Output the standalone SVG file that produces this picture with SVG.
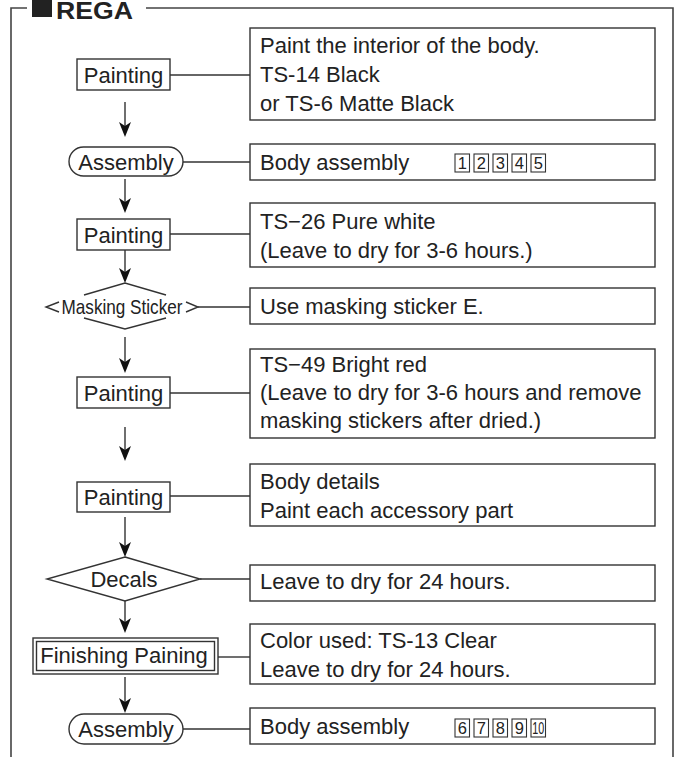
<svg xmlns="http://www.w3.org/2000/svg" width="679" height="757" viewBox="0 0 679 757">
<defs>
<style>
.t{font-family:"Liberation Sans",Arial,sans-serif;font-size:22px;fill:#222}
.c{text-anchor:middle}
.n{font-family:"Liberation Sans",Arial,sans-serif;font-size:16.5px;fill:#222;text-anchor:middle}
.b{fill:#fff;stroke:#333;stroke-width:1.4}
.nb{fill:none;stroke:#333;stroke-width:1.1}
.l{fill:none;stroke:#333;stroke-width:1.4}
.f{fill:none;stroke:#444;stroke-width:1.6}
.ah{fill:#111;stroke:none}
</style>
</defs>
<rect width="679" height="757" fill="#fff"/>
<g id="frame">
<path class="f" d="M11,757 V8 H27 M146,8 H673 V757"/>
<rect x="32" y="-2" width="20" height="19" fill="#222"/>
<text x="56" y="18.5" style="font-family:'Liberation Sans',Arial,sans-serif;font-weight:bold;font-size:24px;fill:#222" textLength="77" lengthAdjust="spacingAndGlyphs">REGA</text>
</g>
<g id="connectors">
<g class="l">
<line x1="170" y1="75" x2="250" y2="75"/>
<line x1="183" y1="162" x2="250" y2="162"/>
<line x1="170" y1="234" x2="250" y2="234"/>
<line x1="198" y1="307" x2="250" y2="307"/>
<line x1="170" y1="393" x2="250" y2="393"/>
<line x1="170" y1="496" x2="250" y2="496"/>
<line x1="200" y1="579" x2="250" y2="579"/>
<line x1="218" y1="657" x2="250" y2="657"/>
<line x1="183" y1="729" x2="250" y2="729"/>
<path d="M125,102 V126 M125,179 V202 M125,250 V272 M125,337 V362 M125,427 V450 M125,517 V546 M125,601 V622 M125,677 V702"/>
</g>
<path class="ah" d="M125,137 L119,122 L125,126 L131,122 Z"/>
<path class="ah" d="M125,213 L119,198 L125,202 L131,198 Z"/>
<path class="ah" d="M125,283 L119,268 L125,272 L131,268 Z"/>
<path class="ah" d="M125,373 L119,358 L125,362 L131,358 Z"/>
<path class="ah" d="M125,461 L119,446 L125,450 L131,446 Z"/>
<path class="ah" d="M125,557 L119,542 L125,546 L131,542 Z"/>
<path class="ah" d="M125,633 L119,618 L125,622 L131,618 Z"/>
<path class="ah" d="M125,713 L119,698 L125,702 L131,698 Z"/>
</g>
<g id="painting1">
<rect class="b" x="77" y="59" width="93" height="31"/>
<text class="t c" x="123.5" y="82.5">Painting</text>
</g>
<g id="note1">
<rect class="b" x="250" y="28" width="405" height="92"/>
<text class="t" x="260" y="53">Paint the interior of the body.</text>
<text class="t" x="260" y="82">TS-14 Black</text>
<text class="t" x="260" y="111">or TS-6 Matte Black</text>
</g>
<g id="assembly1">
<rect class="b" x="69" y="147" width="114" height="29" rx="14.5"/>
<text class="t c" x="126" y="169.5">Assembly</text>
</g>
<g id="note2">
<rect class="b" x="250" y="144" width="405" height="36"/>
<text class="t" x="260" y="170">Body assembly</text>
<rect class="nb" x="455" y="154" width="14.5" height="18"/><text class="n" x="462.25" y="169">1</text>
<rect class="nb" x="474" y="154" width="14.5" height="18"/><text class="n" x="481.25" y="169">2</text>
<rect class="nb" x="493" y="154" width="14.5" height="18"/><text class="n" x="500.25" y="169">3</text>
<rect class="nb" x="512" y="154" width="14.5" height="18"/><text class="n" x="519.25" y="169">4</text>
<rect class="nb" x="531" y="154" width="14.5" height="18"/><text class="n" x="538.25" y="169">5</text>
</g>
<g id="painting2">
<rect class="b" x="77" y="219" width="93" height="31"/>
<text class="t c" x="123.5" y="242.5">Painting</text>
</g>
<g id="note3">
<rect class="b" x="250" y="203" width="405" height="64"/>
<text class="t" x="260" y="228.5">TS−26 Pure white</text>
<text class="t" x="260" y="257.5">(Leave to dry for 3-6 hours.)</text>
</g>
<g id="masking">
<path class="l" d="M84,295 L125,283 L166,295 M84,318 L125,329 L166,318 M59,302 L46,307 L59,312 M186,302 L198,307 L186,312"/>
<text class="t c" x="122" y="314" style="font-size:21px" textLength="121" lengthAdjust="spacingAndGlyphs">Masking Sticker</text>
</g>
<g id="note4">
<rect class="b" x="250" y="288" width="405" height="36"/>
<text class="t" x="260" y="314">Use masking sticker E.</text>
</g>
<g id="painting3">
<rect class="b" x="77" y="377" width="93" height="31"/>
<text class="t c" x="123.5" y="400.5">Painting</text>
</g>
<g id="note5">
<rect class="b" x="250" y="349" width="405" height="89"/>
<text class="t" x="260" y="372">TS−49 Bright red</text>
<text class="t" x="260" y="400">(Leave to dry for 3-6 hours and remove</text>
<text class="t" x="260" y="428">masking stickers after dried.)</text>
</g>
<g id="painting4">
<rect class="b" x="77" y="482" width="93" height="30"/>
<text class="t c" x="123.5" y="504.5">Painting</text>
</g>
<g id="note6">
<rect class="b" x="250" y="464" width="405" height="62"/>
<text class="t" x="260" y="489">Body details</text>
<text class="t" x="260" y="517.5">Paint each accessory part</text>
</g>
<g id="decals">
<path class="b" d="M125,557 L200,579 L125,601 L47,579 Z"/>
<text class="t c" x="124" y="587">Decals</text>
</g>
<g id="note7">
<rect class="b" x="250" y="565" width="405" height="36"/>
<text class="t" x="260" y="589">Leave to dry for 24 hours.</text>
</g>
<g id="finishing">
<rect class="b" x="33" y="638" width="185" height="36"/>
<rect class="b" x="36.5" y="641.5" width="178" height="29"/>
<text class="t c" x="124" y="663">Finishing Paining</text>
</g>
<g id="note8">
<rect class="b" x="250" y="624" width="405" height="60"/>
<text class="t" x="260" y="647.5">Color used: TS-13 Clear</text>
<text class="t" x="260" y="676.5">Leave to dry for 24 hours.</text>
</g>
<g id="assembly2">
<rect class="b" x="69" y="714" width="114" height="30" rx="15"/>
<text class="t c" x="126" y="737">Assembly</text>
</g>
<g id="note9">
<rect class="b" x="250" y="708" width="405" height="36"/>
<text class="t" x="260" y="734">Body assembly</text>
<rect class="nb" x="455" y="719" width="14.5" height="18"/><text class="n" x="462.25" y="734">6</text>
<rect class="nb" x="474" y="719" width="14.5" height="18"/><text class="n" x="481.25" y="734">7</text>
<rect class="nb" x="493" y="719" width="14.5" height="18"/><text class="n" x="500.25" y="734">8</text>
<rect class="nb" x="512" y="719" width="14.5" height="18"/><text class="n" x="519.25" y="734">9</text>
<rect class="nb" x="531" y="719" width="14.5" height="18"/><text class="n" x="538.25" y="734" textLength="12" lengthAdjust="spacingAndGlyphs">10</text>
</g>
</svg>
